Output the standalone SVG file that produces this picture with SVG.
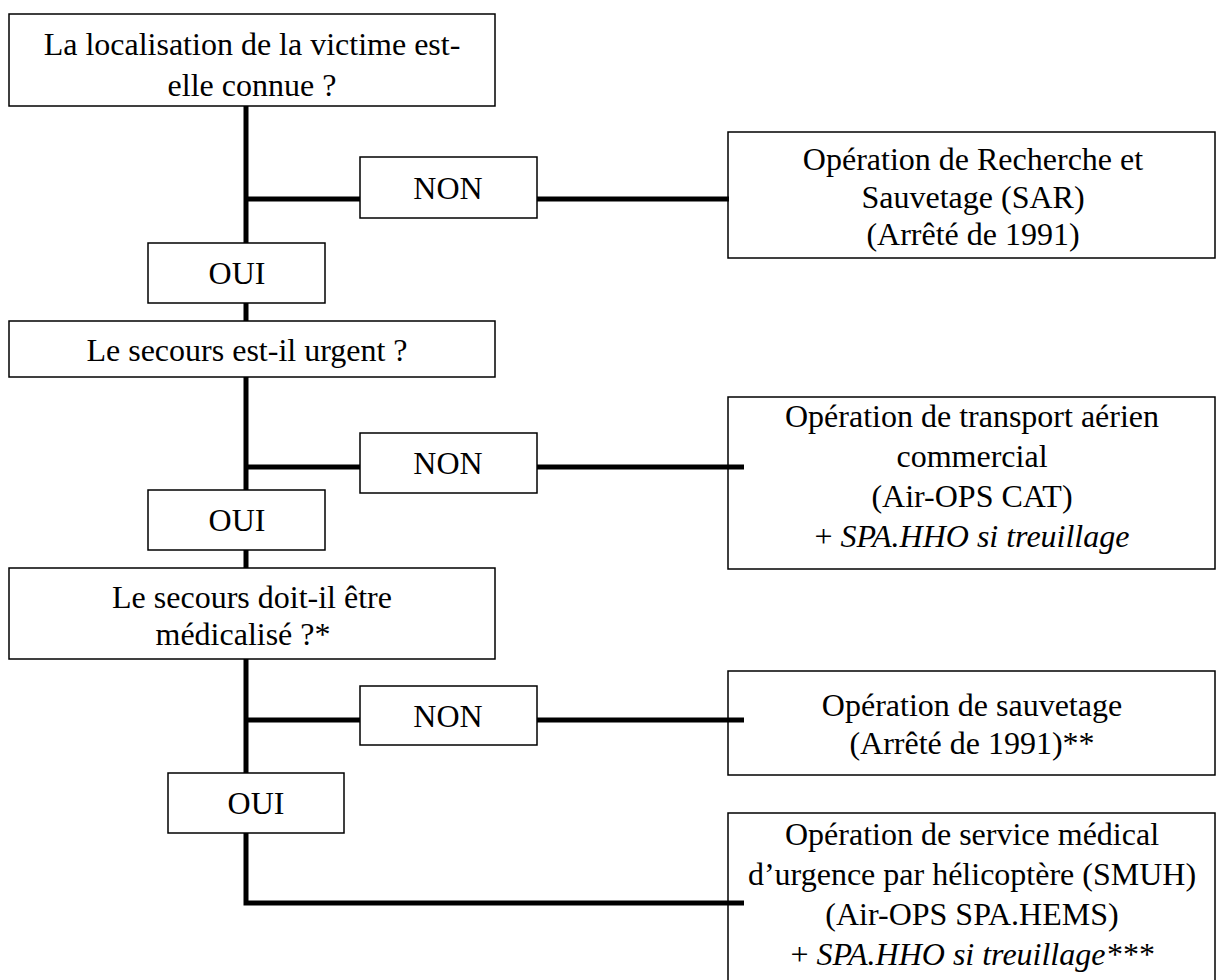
<svg xmlns="http://www.w3.org/2000/svg" width="1218" height="980" viewBox="0 0 1218 980">
<style>
.box{fill:#fff;stroke:#000;stroke-width:1.5}
.rbox{fill:none;stroke:#000;stroke-width:1.5}
.conn{fill:none;stroke:#000;stroke-width:5;stroke-linejoin:miter}
text{font-family:"Liberation Serif","Times New Roman",serif;font-size:32px;fill:#000;text-anchor:middle}
.it{font-style:italic}
</style>
<rect width="1218" height="980" fill="#fff"/>
<g id="sar">
<rect class="rbox" x="728" y="132" width="487" height="126"/>
<text x="973" y="170">Opération de Recherche et</text>
<text x="973" y="208">Sauvetage (SAR)</text>
<text x="973" y="245">(Arrêté de 1991)</text>
</g>
<g id="cat">
<rect class="rbox" x="728" y="397" width="487" height="172"/>
<text x="972" y="427">Opération de transport aérien</text>
<text x="972" y="467">commercial</text>
<text x="972" y="507">(Air-OPS CAT)</text>
<text x="972" y="547">+ <tspan class="it">SPA.HHO si treuillage</tspan></text>
</g>
<g id="sauvetage">
<rect class="rbox" x="728" y="671" width="487" height="104"/>
<text x="972" y="716">Opération de sauvetage</text>
<text x="972" y="754">(Arrêté de 1991)**</text>
</g>
<g id="smuh">
<rect class="rbox" x="728" y="813" width="487" height="180"/>
<text x="972" y="845">Opération de service médical</text>
<text x="972" y="885">d’urgence par hélicoptère (SMUH)</text>
<text x="972" y="925">(Air-OPS SPA.HEMS)</text>
<text x="972" y="965">+ <tspan class="it">SPA.HHO si treuillage***</tspan></text>
</g>
<g id="connectors">
<path class="conn" d="M246,106 V903 H744"/>
<path class="conn" d="M246,199 H729"/>
<path class="conn" d="M246,467 H744"/>
<path class="conn" d="M246,720 H744"/>
</g>
<g id="q1">
<rect class="box" x="9" y="14" width="486" height="92"/>
<text x="252" y="55">La localisation de la victime est-</text>
<text x="252" y="96">elle connue ?</text>
</g>
<g id="non1">
<rect class="box" x="360" y="157" width="177" height="61"/>
<text x="448" y="199">NON</text>
</g>
<g id="oui1">
<rect class="box" x="148" y="243" width="177" height="60"/>
<text x="237" y="284">OUI</text>
</g>
<g id="q2">
<rect class="box" x="9" y="321" width="486" height="56"/>
<text x="247" y="361">Le secours est-il urgent ?</text>
</g>
<g id="non2">
<rect class="box" x="360" y="433" width="177" height="60"/>
<text x="448" y="474">NON</text>
</g>
<g id="oui2">
<rect class="box" x="148" y="490" width="177" height="60"/>
<text x="237" y="531">OUI</text>
</g>
<g id="q3">
<rect class="box" x="9" y="568" width="486" height="91"/>
<text x="252" y="608">Le secours doit-il être</text>
<text x="243" y="645">médicalisé ?*</text>
</g>
<g id="non3">
<rect class="box" x="360" y="686" width="177" height="59"/>
<text x="448" y="727">NON</text>
</g>
<g id="oui3">
<rect class="box" x="168" y="773" width="176" height="60"/>
<text x="256" y="814">OUI</text>
</g>
</svg>
